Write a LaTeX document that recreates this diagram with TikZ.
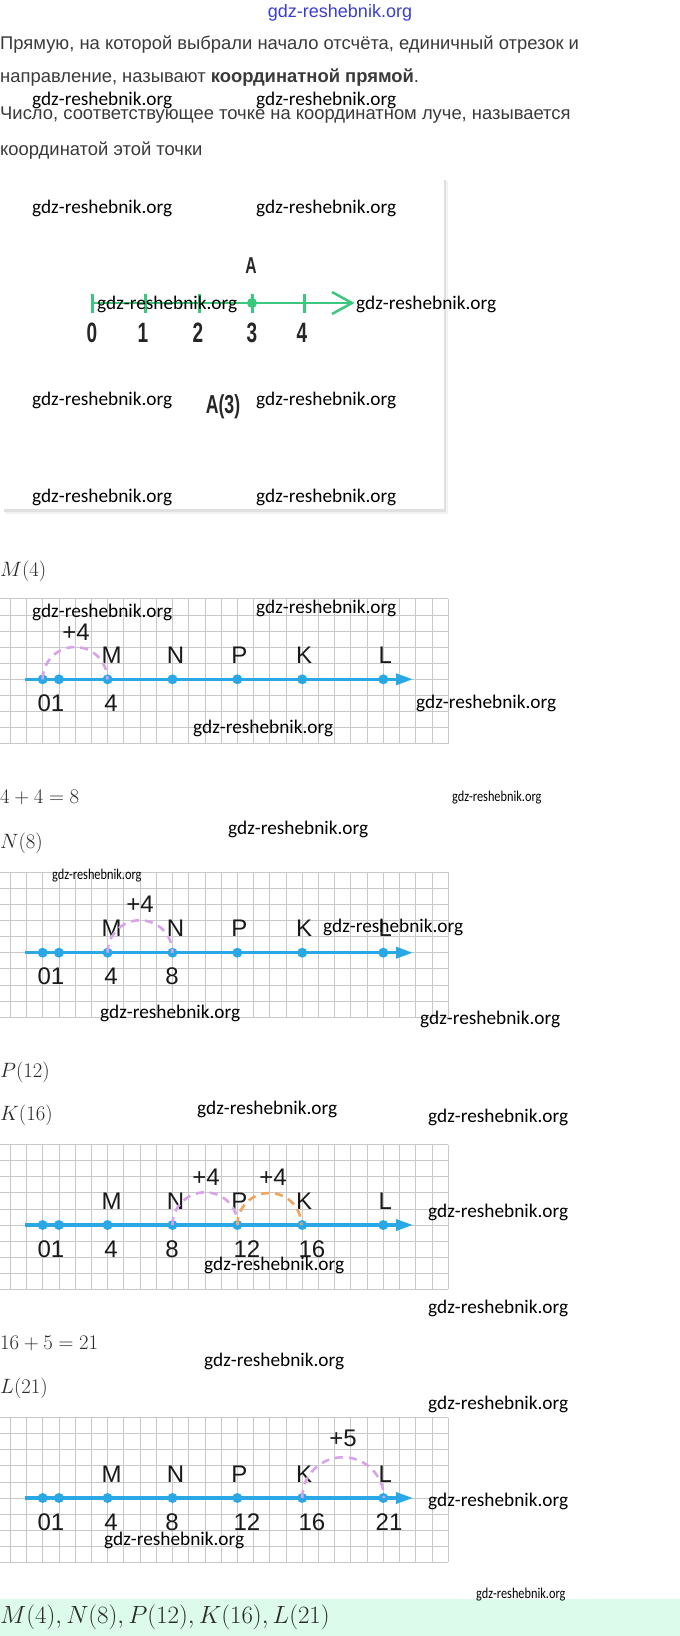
\documentclass[tikz,border=0pt]{standalone}
\usepackage[no-math]{fontspec}
\usepackage{graphicx}
\setmainfont{Liberation Sans}
\newfontfamily\wmfont{Carlito}
\usetikzlibrary{arrows.meta}
\definecolor{txt}{HTML}{3A3A3A}
\definecolor{mtxt}{HTML}{2A2A2A}
\definecolor{axblue}{HTML}{2AA8E6}
\definecolor{gridc}{HTML}{C8C8C8}
\definecolor{arcv}{HTML}{D9A3EC}
\definecolor{arco}{HTML}{F2A35E}
\definecolor{grn}{HTML}{3CC77E}
\definecolor{band}{HTML}{DCFBEA}
\definecolor{wmblue}{HTML}{3A3FD0}
\newcommand\drawgrid[2]{%
  \foreach \k in {-5,...,4}{\draw[gridln] (0,{#1+\k*16.1}) -- (448,{#1+\k*16.1});}
  \foreach \k in {-2,...,25}{\draw[gridln] ({42.7+\k*16.22},{#1-80.5}) -- ({42.7+\k*16.22},{#1+64.4});}
  \coordinate (#2s) at (25,#1);
  \coordinate (#2e) at (413,#1);
  \draw[axisln] (#2s) -- (#2e);
  \foreach \v in {0,1,4,8,12,16,21}{\node[dot] (#2p\v) at ({42.7+\v*16.22},#1) {};}
  \node[lbl] (#2M) at ([xshift=4pt,yshift=24pt]#2p4) {M};
  \node[lbl] (#2N) at ([xshift=3pt,yshift=24pt]#2p8) {N};
  \node[lbl] (#2P) at ([xshift=2pt,yshift=24pt]#2p12) {P};
  \node[lbl] (#2K) at ([xshift=2pt,yshift=24pt]#2p16) {K};
  \node[lbl] (#2L) at ([xshift=2pt,yshift=24pt]#2p21) {L};
}
\begin{document}
\begin{tikzpicture}[x=1pt,y=-1pt,
  body/.style={anchor=west,inner sep=0pt,text=txt,font=\fontsize{18.4}{21}\selectfont},
  wmk/.style={anchor=west,inner sep=0pt,text=black,font=\wmfont\fontsize{19.3}{22}\selectfont},
  wms/.style={anchor=west,inner sep=0pt,text=black,font=\wmfont\fontsize{15}{17}\selectfont},
  mth/.style={anchor=west,inner sep=0pt,text=mtxt,font=\fontsize{22.5}{25}\selectfont},
  lbl/.style={inner sep=0pt,text=black!90,font=\fontsize{24}{26}\selectfont},
  cnd/.style={inner sep=0pt,text=black!85,font=\bfseries\fontsize{28}{30}\selectfont},
  dot/.style={circle,fill=axblue,inner sep=0pt,minimum size=10pt},
  gdot/.style={circle,fill=grn,inner sep=0pt,minimum size=10pt},
  gridln/.style={draw=gridc,line width=0.8pt},
  axisln/.style={draw=axblue,line width=3.5pt,-{Triangle[length=17pt,width=11pt]}},
  jumpv/.style={draw=arcv,line width=2.6pt,dash pattern=on 8pt off 6pt},
  jumpo/.style={draw=arco,line width=2.6pt,dash pattern=on 8pt off 6pt},
  gline/.style={draw=grn,line width=2.5pt},
]
\useasboundingbox (0,0) rectangle (680,1636);
\fill[white] (0,0) rectangle (680,1636);

% header
\node[inner sep=0pt,text=wmblue,font=\fontsize{18}{20}\selectfont] (hdr) at (340,13) {gdz-reshebnik.org};

% definition text
\node[body] (t1) at (0,45) {Прямую, на которой выбрали начало отсчёта, единичный отрезок и};
\node[body] (t2) at (0,78) {направление, называют \textbf{координатной прямой}.};
\node[body] (t3) at (0,115) {Число, соответствующее точке на координатном луче, называется};
\node[body] (t4) at (0,151) {координатой этой точки};

% card
\fill[black!5] (5,181) rectangle (448,514);
\fill[black!12] (4,180) rectangle (446,512);
\fill[white] (3,179) rectangle (444,509);
\draw[gline] (92,303) -- (350,303);
\foreach \x/\n in {92/0,145/1,199/2,252/3,304/4}{\draw[draw=grn,line width=3pt] (\x,294) -- (\x,313);}
\draw[gline] (332,292) -- (352,303) -- (332,314);
\node[gdot] (cA) at (252,303) {};
\node[inner sep=0pt,text=black!85,font=\bfseries\fontsize{23}{25}\selectfont] (cAl) at (251,266) {\scalebox{0.68}[1]{A}};
\node[cnd] (c0) at (92,333) {\scalebox{0.68}[1]{0}};
\node[cnd] (c1) at (143,333) {\scalebox{0.68}[1]{1}};
\node[cnd] (c2) at (198,333) {\scalebox{0.68}[1]{2}};
\node[cnd] (c3) at (252,333) {\scalebox{0.68}[1]{3}};
\node[cnd] (c4) at (302,333) {\scalebox{0.68}[1]{4}};
\node[inner sep=0pt,text=black!85,font=\bfseries\fontsize{26}{28}\selectfont] (cA3) at (223,407) {\scalebox{0.68}[1]{A(3)}};

% M(4)
\node[mth] (m1) at (0,571) {$M(4)$};
\drawgrid{679.3}{a}
\node[lbl] (a01) at (51,703) {01};
\node[lbl] (a4) at (111,703) {4};
\draw[jumpv] (ap0.center) arc[start angle=180,end angle=0,radius=32.3pt];
\node[lbl] (aj) at (76,632) {+4};

% N(8)
\node[mth] (m2) at (0,797) {$4+4=8$};
\node[mth] (m3) at (0,843) {$N(8)$};
\drawgrid{952.7}{b}
\node[lbl] (b01) at (51,976) {01};
\node[lbl] (b4) at (111,976) {4};
\node[lbl] (b8) at (172,976) {8};
\draw[jumpv] (bp4.center) arc[start angle=180,end angle=0,radius=32.45pt];
\node[lbl] (bj) at (140,904) {+4};

% P(12), K(16)
\node[mth] (m4) at (0,1072) {$P(12)$};
\node[mth] (m5) at (0,1115) {$K(16)$};
\drawgrid{1225}{c}
\node[lbl] (c01) at (51,1249) {01};
\node[lbl] (c4n) at (111,1249) {4};
\node[lbl] (c8) at (172,1249) {8};
\node[lbl] (c12) at (247,1249) {12};
\node[lbl] (c16) at (312,1249) {16};
\draw[jumpv] (cp8.center) arc[start angle=180,end angle=0,radius=32.7pt];
\draw[jumpo] (cp12.center) arc[start angle=180,end angle=0,radius=32pt];
\node[lbl] (cj1) at (206,1177) {+4};
\node[lbl] (cj2) at (273,1177) {+4};

% L(21)
\node[mth] (m6) at (0,1343) {$16+5=21$};
\node[mth] (m7) at (0,1388) {$L(21)$};
\drawgrid{1498}{d}
\node[lbl] (d01) at (51,1522) {01};
\node[lbl] (d4) at (111,1522) {4};
\node[lbl] (d8) at (172,1522) {8};
\node[lbl] (d12) at (247,1522) {12};
\node[lbl] (d16) at (312,1522) {16};
\node[lbl] (d21) at (389,1522) {21};
\draw[jumpv] (dp16.center) arc[start angle=180,end angle=0,radius=40.8pt];
\node[lbl] (dj) at (343,1438) {+5};

% answer band
\fill[band] (0,1599) rectangle (680,1636);
\node[mth,font=\fontsize{25.5}{28}\selectfont] (ans) at (0,1617) {$M(4), N(8), P(12), K(16), L(21)$};

% watermarks
\node[wmk] (w1) at (32,100) {gdz-reshebnik.org};
\node[wmk] (w2) at (256,100) {gdz-reshebnik.org};
\node[wmk] (w3) at (32,208) {gdz-reshebnik.org};
\node[wmk] (w4) at (256,208) {gdz-reshebnik.org};
\node[wmk] (w5) at (97,304) {gdz-reshebnik.org};
\node[wmk] (w6) at (356,304) {gdz-reshebnik.org};
\node[wmk] (w7) at (32,400) {gdz-reshebnik.org};
\node[wmk] (w8) at (256,400) {gdz-reshebnik.org};
\node[wmk] (w9) at (32,497) {gdz-reshebnik.org};
\node[wmk] (w10) at (256,497) {gdz-reshebnik.org};
\node[wmk] (w11) at (32,612) {gdz-reshebnik.org};
\node[wmk] (w12) at (256,608) {gdz-reshebnik.org};
\node[wmk] (w13) at (193,728) {gdz-reshebnik.org};
\node[wmk] (w14) at (416,703) {gdz-reshebnik.org};
\node[wms] (w15) at (452,798) {\scalebox{0.82}[1]{gdz-reshebnik.org}};
\node[wmk] (w16) at (228,829) {gdz-reshebnik.org};
\node[wms] (w17) at (52,876) {\scalebox{0.82}[1]{gdz-reshebnik.org}};
\node[wmk] (w18) at (323,927) {gdz-reshebnik.org};
\node[wmk] (w19) at (100,1013) {gdz-reshebnik.org};
\node[wmk] (w20) at (420,1019) {gdz-reshebnik.org};
\node[wmk] (w21) at (197,1109) {gdz-reshebnik.org};
\node[wmk] (w22) at (428,1117) {gdz-reshebnik.org};
\node[wmk] (w23) at (428,1212) {gdz-reshebnik.org};
\node[wmk] (w24) at (204,1265) {gdz-reshebnik.org};
\node[wmk] (w25) at (428,1308) {gdz-reshebnik.org};
\node[wmk] (w26) at (204,1361) {gdz-reshebnik.org};
\node[wmk] (w27) at (428,1404) {gdz-reshebnik.org};
\node[wmk] (w28) at (428,1501) {gdz-reshebnik.org};
\node[wmk] (w29) at (104,1540) {gdz-reshebnik.org};
\node[wms] (w30) at (476,1595) {\scalebox{0.82}[1]{gdz-reshebnik.org}};
\end{tikzpicture}
\end{document}
